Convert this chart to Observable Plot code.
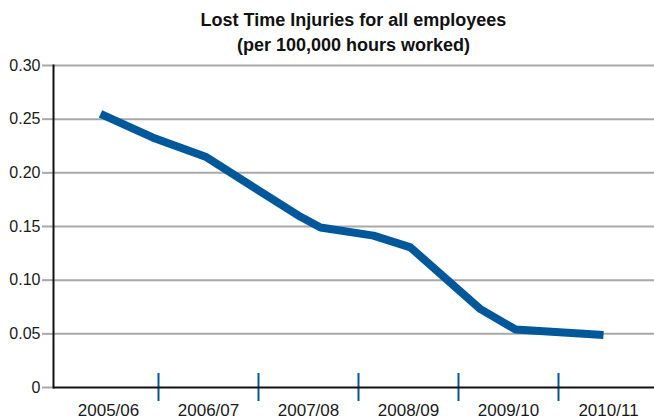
<!DOCTYPE html>
<html>
<head>
<meta charset="utf-8">
<script src="https://cdn.jsdelivr.net/npm/d3@7"></script>
<script src="https://cdn.jsdelivr.net/npm/@observablehq/plot@0.6"></script>
<style>
  html, body { margin: 0; padding: 0; background: #fff; }
  #chart { width: 654px; height: 420px; font-family: "Liberation Sans", Arial, sans-serif; }
  .title {
    box-sizing: border-box;
    width: 654px;
    height: 58px;
    padding: 8px 0 0 53px;
    text-align: center;
    font-weight: bold;
    font-size: 18px;
    line-height: 25px;
    color: #111;
  }
  svg { display: block; }
</style>
</head>
<body>
<div id="chart">
  <div class="title">Lost Time Injuries for all employees<br>(per 100,000 hours worked)</div>
</div>
<script>
// Financial years along the x axis (one unit per year)
const years = ["2005/06", "2006/07", "2007/08", "2008/09", "2009/10", "2010/11"];

// Rolling measurements: position along the year axis and rate per 100,000 hours
const position = [0.42, 0.94, 1.47, 2.42, 2.62, 3.15, 3.52, 4.22, 4.57, 5.45];
const rate     = [0.255, 0.233, 0.215, 0.159, 0.149, 0.1415, 0.1305, 0.073, 0.054, 0.049];

// Y tick values
const yTicks = [0, 0.05, 0.10, 0.15, 0.20, 0.25, 0.30];

const data = position.map((p, i) => ({p, v: rate[i]}));
const yearCenters = years.map((_, i) => i + 0.5);
const yearBounds = years.slice(1).map((_, i) => i + 1);

const blue = "#00589b";
const grey = "#a8a8a8";

const chart = Plot.plot({
  width: 654,
  height: 362,
  marginLeft: 53,
  marginRight: 0,
  marginTop: 7,
  marginBottom: 33,
  style: {fontFamily: "Liberation Sans, Arial, sans-serif", fontSize: "16px", color: "#1a1a1a"},
  x: {domain: [0, 6], range: [58, 658], label: null},
  y: {domain: [0, 0.3], label: null},
  marks: [
    // horizontal gridlines
    Plot.ruleY(yTicks.filter(d => d > 0), {stroke: grey, strokeWidth: 2}),
    // y axis: grey ticks, labels
    Plot.axisY({
      ticks: yTicks,
      label: null,
      tickSize: 11,
      tickPadding: 2,
      stroke: grey,
      strokeWidth: 2,
      strokeOpacity: 1,
      tickFormat: d => d === 0 ? "0" : d3.format(".2f")(d),
      fontSize: 16
    }),
    // year labels centred in each band
    Plot.axisX({
      ticks: yearCenters,
      label: null,
      tickSize: 0,
      tickPadding: 16,
      tickFormat: d => years[Math.floor(d)],
      fontSize: 17
    }),
    // blue separators between years, straddling the baseline
    Plot.axisX({
      ticks: yearBounds,
      label: null,
      tickSize: 28,
      dy: -14,
      tickFormat: () => "",
      stroke: blue,
      strokeWidth: 2,
      strokeOpacity: 1
    }),
    // axis lines
    Plot.frame({anchor: "left", stroke: "#111", strokeWidth: 2}),
    Plot.ruleY([0], {stroke: "#111", strokeWidth: 2}),
    // the series
    Plot.line(data, {x: "p", y: "v", stroke: blue, strokeWidth: 8, strokeLinejoin: "round", strokeLinecap: "butt"})
  ]
});

document.getElementById("chart").appendChild(chart);
</script>
</body>
</html>
